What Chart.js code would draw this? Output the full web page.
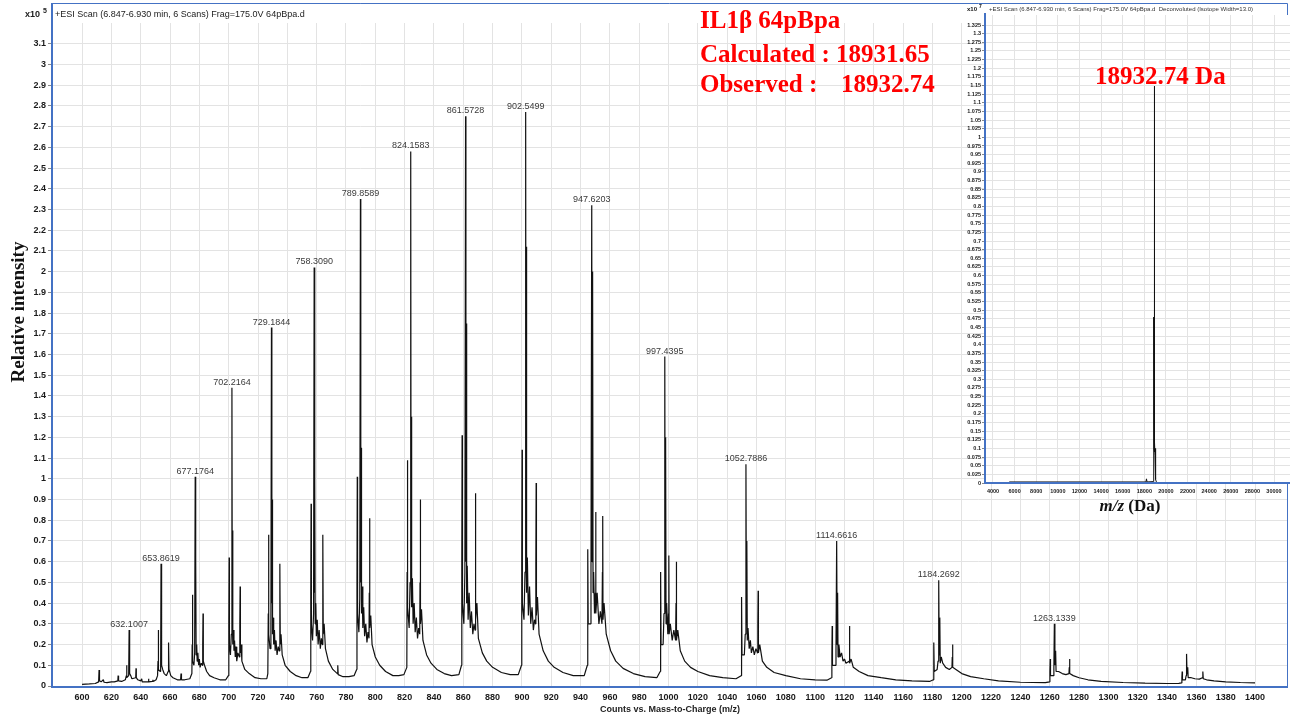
<!DOCTYPE html>
<html lang="en">
<head>
<meta charset="UTF-8">
<title>IL1β 64pBpa ESI spectrum</title>
<script src="https://cdn.jsdelivr.net/npm/chart.js"></script>
<style>
  body { margin: 0; background: #fff; }
  #wrap { position: relative; width: 1292px; height: 720px; overflow: hidden; }
  #mainChart { position: absolute; left: 0; top: 0; }
  #insetChart { position: absolute; left: 940px; top: 0; }
</style>
</head>
<body>
<div id="wrap">
  <canvas id="mainChart" width="1292" height="720"></canvas>
  <canvas id="insetChart" width="352" height="520"></canvas>
</div>
<script>
// ESI spectrum: [m/z, counts x10^5]
const spectrum = [
  [600, 0.008], [605, 0.01], [609, 0.012], [611.3, 0.02], [611.6, 0.077], [611.9, 0.025], [613, 0.02],
  [614.5, 0.03], [615, 0.018], [617, 0.016], [620, 0.02], [622, 0.02], [624.4, 0.025], [624.6, 0.05],
  [624.9, 0.025], [627, 0.022], [629.5, 0.03], [630.2, 0.05], [630.4, 0.10], [630.6, 0.04], [631.8, 0.05],
  [632.1007, 0.27], [632.3, 0.1], [632.6, 0.06], [633.2, 0.05], [634, 0.035], [636.6, 0.04], [636.8, 0.085],
  [637.0, 0.04], [638, 0.03], [640, 0.025], [640.7, 0.035], [641, 0.02], [643, 0.02], [645, 0.02],
  [645.3, 0.035], [645.6, 0.02], [648, 0.022], [648.3, 0.03], [648.6, 0.022], [650.5, 0.03],
  // z = 29
  [651.5, 0.05], [651.8, 0.12], [652.0, 0.27], [652.2, 0.08], [653.2, 0.07], [653.6, 0.09], [653.8619, 0.59],
  [654.1, 0.15], [654.4, 0.1], [655.0, 0.08], [656.0, 0.06], [657.5, 0.05], [658.7, 0.07], [659.0, 0.21],
  [659.3, 0.08], [660.5, 0.05], [662, 0.04], [665, 0.03], [667.2, 0.03], [667.5, 0.06], [667.8, 0.03],
  [670, 0.03], [673.5, 0.035],
  // z = 28
  [674.9, 0.06], [675.1, 0.2], [675.3, 0.44], [675.5, 0.12], [676.3, 0.1], [676.8, 0.16], [677.1764, 1.01],
  [677.4, 0.3], [677.6, 0.62], [677.8, 0.15], [678.2, 0.2], [678.5, 0.12], [679.0, 0.16], [679.5, 0.1],
  [680.0, 0.13], [680.5, 0.09], [681.3, 0.11], [682.1, 0.1], [682.3, 0.2], [682.5, 0.35], [682.7, 0.12],
  [683.5, 0.1], [685, 0.07], [687, 0.05], [690, 0.04], [694, 0.03], [698, 0.03],
  // z = 27
  [699.8, 0.05], [700.1, 0.3], [700.3, 0.62], [700.5, 0.2], [701.2, 0.15], [701.8, 0.25], [702.2164, 1.44],
  [702.45, 0.35], [702.7, 0.75], [702.9, 0.2], [703.3, 0.27], [703.6, 0.17], [704.0, 0.22], [704.5, 0.14],
  [705.0, 0.19], [705.5, 0.12], [706.3, 0.16], [707.3, 0.14], [707.6, 0.3], [707.8, 0.48], [708.0, 0.16],
  [708.5, 0.2], [709, 0.12], [711, 0.08], [714, 0.06], [718, 0.04], [722, 0.035], [726, 0.035],
  // z = 26
  [726.7, 0.06], [727.0, 0.35], [727.2, 0.73], [727.4, 0.25], [728.2, 0.18], [728.8, 0.3], [729.1844, 1.73],
  [729.45, 0.4], [729.7, 0.9], [729.9, 0.25], [730.3, 0.33], [730.7, 0.2], [731.2, 0.27], [731.7, 0.17],
  [732.3, 0.22], [733, 0.15], [733.8, 0.19], [734.5, 0.17], [734.8, 0.35], [735.0, 0.59], [735.2, 0.2],
  [735.7, 0.25], [736.5, 0.15], [738.5, 0.1], [742, 0.07], [746, 0.05], [750, 0.04], [754, 0.04],
  // z = 25
  [755.8, 0.07], [756.0, 0.45], [756.2, 0.88], [756.4, 0.3], [757.2, 0.22], [757.9, 0.35], [758.3090, 2.02],
  [758.55, 0.45], [758.8, 1.0], [759.0, 0.3], [759.4, 0.4], [759.8, 0.24], [760.4, 0.32], [761, 0.2],
  [761.7, 0.27], [762.5, 0.18], [763.2, 0.23], [763.9, 0.2], [764.1, 0.4], [764.3, 0.73], [764.5, 0.25],
  [765.1, 0.3], [766, 0.18], [768, 0.12], [771, 0.08], [774.1, 0.06], [774.4, 0.1], [774.7, 0.055],
  [778, 0.045], [782, 0.045], [785.5, 0.05],
  // z = 24
  [787.3, 0.08], [787.5, 0.5], [787.7, 1.01], [787.9, 0.35], [788.8, 0.26], [789.4, 0.42], [789.8589, 2.35],
  [790.1, 0.5], [790.35, 1.15], [790.6, 0.35], [791.0, 0.48], [791.5, 0.28], [792.1, 0.38], [792.7, 0.24],
  [793.5, 0.3], [794.3, 0.21], [795.0, 0.26], [795.7, 0.23], [795.9, 0.45], [796.1, 0.81], [796.3, 0.28],
  [796.9, 0.34], [797.8, 0.2], [800, 0.14], [803, 0.1], [807, 0.07], [812, 0.05], [816, 0.05], [819.5, 0.055],
  // z = 23
  [821.5, 0.09], [821.7, 0.55], [821.9, 1.09], [822.1, 0.38], [823.1, 0.28], [823.7, 0.5], [824.1583, 2.58],
  [824.4, 0.55], [824.65, 1.3], [824.9, 0.38], [825.3, 0.52], [825.8, 0.3], [826.5, 0.4], [827.2, 0.26],
  [828.0, 0.33], [828.8, 0.23], [829.6, 0.28], [830.3, 0.25], [830.5, 0.5], [830.7, 0.90], [830.9, 0.3],
  [831.5, 0.37], [832.5, 0.22], [835, 0.15], [838, 0.11], [842, 0.08], [847, 0.06], [852, 0.05], [857, 0.055],
  // z = 22
  [858.8, 0.1], [859.0, 0.6], [859.2, 1.21], [859.4, 0.4], [860.4, 0.3], [861.1, 0.55], [861.5728, 2.75],
  [861.8, 0.6], [862.05, 1.75], [862.3, 0.4], [862.7, 0.58], [863.3, 0.32], [864.0, 0.45], [864.8, 0.28],
  [865.6, 0.36], [866.5, 0.25], [867.3, 0.3], [868.0, 0.27], [868.2, 0.55], [868.4, 0.93], [868.6, 0.32],
  [869.3, 0.4], [870.3, 0.23], [873, 0.16], [876, 0.12], [880, 0.09], [886, 0.065], [892, 0.055], [897.5, 0.055],
  // z = 21
  [899.7, 0.1], [899.9, 0.6], [900.1, 1.14], [900.3, 0.4], [901.4, 0.32], [902.1, 0.55], [902.5499, 2.77],
  [902.8, 0.65], [903.05, 2.12], [903.3, 0.45], [903.7, 0.62], [904.4, 0.34], [905.2, 0.48], [906, 0.3],
  [906.9, 0.38], [907.8, 0.27], [908.6, 0.32], [909.3, 0.3], [909.5, 0.6], [909.7, 0.98], [909.9, 0.34],
  [910.6, 0.43], [911.7, 0.25], [914.5, 0.17], [918, 0.12], [922, 0.09], [928, 0.065], [935, 0.05], [942.5, 0.05],
  // z = 20
  [944.6, 0.1], [944.8, 0.35], [945.0, 0.66], [945.2, 0.3], [946.5, 0.3], [947.1, 0.55], [947.6203, 2.32],
  [947.9, 0.6], [948.2, 2.0], [948.5, 0.45], [948.9, 0.55], [949.5, 0.35], [950.1, 0.45], [950.3, 0.84],
  [950.5, 0.35], [951.3, 0.45], [952.5, 0.3], [953.5, 0.36], [954.6, 0.3], [954.9, 0.55], [955.1, 0.82],
  [955.3, 0.32], [956.0, 0.4], [957.5, 0.25], [960.5, 0.17], [964, 0.12], [969, 0.085], [976, 0.06],
  [984, 0.045], [992, 0.04],
  // z = 19
  [994.3, 0.07], [994.5, 0.3], [994.7, 0.55], [994.9, 0.2], [996.3, 0.2], [996.9, 0.35], [997.4395, 1.59],
  [997.7, 0.4], [998.0, 1.2], [998.3, 0.3], [998.7, 0.4], [999.5, 0.25], [1000.0, 0.35], [1000.2, 0.63],
  [1000.4, 0.25], [1001.2, 0.3], [1002.5, 0.22], [1003.6, 0.27], [1004.8, 0.22], [1005.1, 0.4], [1005.3, 0.6],
  [1005.5, 0.22], [1006.3, 0.27], [1008, 0.17], [1011, 0.12], [1015, 0.09], [1020, 0.07], [1028, 0.05],
  [1037, 0.04], [1046, 0.035],
  // z = 18
  [1049.5, 0.05], [1049.7, 0.22], [1049.9, 0.43], [1050.1, 0.15], [1051.7, 0.15], [1052.3, 0.25],
  [1052.7886, 1.07], [1053.1, 0.3], [1053.4, 0.7], [1053.7, 0.22], [1054.2, 0.28], [1055, 0.18],
  [1055.8, 0.22], [1056.5, 0.16], [1057.5, 0.19], [1058.5, 0.15], [1059.6, 0.18], [1060.7, 0.16],
  [1060.9, 0.3], [1061.1, 0.46], [1061.3, 0.16], [1062.2, 0.2], [1064, 0.12], [1067, 0.09], [1072, 0.065],
  [1080, 0.05], [1090, 0.035], [1100, 0.03], [1108, 0.028],
  // z = 17
  [1111.2, 0.04], [1111.4, 0.15], [1111.6, 0.29], [1111.8, 0.1], [1113.6, 0.1], [1114.2, 0.17],
  [1114.6616, 0.70], [1115.0, 0.2], [1115.3, 0.45], [1115.6, 0.14], [1116.2, 0.2], [1117, 0.14],
  [1118, 0.16], [1119, 0.12], [1120, 0.13], [1121, 0.11], [1123.1, 0.12], [1123.3, 0.2], [1123.5, 0.29],
  [1123.7, 0.11], [1124.5, 0.13], [1126, 0.09], [1130, 0.07], [1136, 0.05], [1145, 0.04], [1155, 0.03],
  [1166, 0.025], [1178, 0.022],
  // z = 16
  [1180.6, 0.03], [1180.8, 0.1], [1181.0, 0.21], [1181.2, 0.07], [1183.2, 0.08], [1183.8, 0.12],
  [1184.2692, 0.51], [1184.6, 0.15], [1185.0, 0.33], [1185.3, 0.11], [1186, 0.14], [1187, 0.11],
  [1189, 0.09], [1191.5, 0.08], [1193.3, 0.09], [1193.5, 0.14], [1193.7, 0.20], [1193.9, 0.09],
  [1196, 0.08], [1200, 0.06], [1206, 0.045], [1215, 0.035], [1225, 0.025], [1240, 0.018], [1257, 0.016],
  // z = 15
  [1259.9, 0.02], [1260.1, 0.07], [1260.3, 0.13], [1260.5, 0.05], [1262.3, 0.05], [1262.8, 0.08],
  [1263.1339, 0.30], [1263.5, 0.1], [1264, 0.17], [1264.3, 0.07], [1266, 0.07], [1268.5, 0.06],
  [1271, 0.055], [1273.1, 0.06], [1273.3, 0.09], [1273.5, 0.13], [1273.7, 0.06], [1276, 0.05], [1280, 0.04],
  [1286, 0.03], [1295, 0.022], [1310, 0.017], [1325, 0.014], [1340, 0.012], [1348, 0.013],
  // z = 14
  [1349.9, 0.015], [1350.1, 0.04], [1350.3, 0.07], [1350.5, 0.03], [1352.5, 0.03], [1353.0, 0.05],
  [1353.3, 0.155], [1353.6, 0.06], [1354.1, 0.09], [1354.4, 0.04], [1356.5, 0.04], [1359, 0.035],
  [1362, 0.033], [1364.1, 0.04], [1364.3, 0.055], [1364.5, 0.07], [1364.7, 0.035], [1367, 0.03],
  [1372, 0.025], [1380, 0.02], [1390, 0.017], [1400, 0.015]
];

// annotated charge-state maxima (m/z)
const labelledPeaks = [632.1007, 653.8619, 677.1764, 702.2164, 729.1844, 758.3090, 789.8589, 824.1583,
  861.5728, 902.5499, 947.6203, 997.4395, 1052.7886, 1114.6616, 1184.2692, 1263.1339];

const mzTicks = [600, 620, 640, 660, 680, 700, 720, 740, 760, 780, 800, 820, 840, 860, 880, 900, 920, 940,
  960, 980, 1000, 1020, 1040, 1060, 1080, 1100, 1120, 1140, 1160, 1180, 1200, 1220, 1240, 1260, 1280, 1300,
  1320, 1340, 1360, 1380, 1400];
const countTicks = [0, 0.1, 0.2, 0.3, 0.4, 0.5, 0.6, 0.7, 0.8, 0.9, 1, 1.1, 1.2, 1.3, 1.4, 1.5, 1.6, 1.7,
  1.8, 1.9, 2, 2.1, 2.2, 2.3, 2.4, 2.5, 2.6, 2.7, 2.8, 2.9, 3, 3.1];

// deconvoluted mass spectrum, counts x10^7
const deconvMass = [5500, 18150, 18200, 18250, 18820, 18850, 18865, 18880, 18890, 18900, 18910, 18920,
  18932.74, 18945, 18960, 18975, 18990, 19010, 19040, 19080, 19120];
const deconvIntensity = [0.003, 0.003, 0.012, 0.003, 0.004, 0.05, 0.11, 0.07, 0.48, 0.1, 0.37, 0.12,
  1.148, 0.13, 0.09, 0.12, 0.08, 0.1, 0.04, 0.01, 0.003];
const massTicks = [4000, 6000, 8000, 10000, 12000, 14000, 16000, 18000, 20000, 22000, 24000, 26000, 28000, 30000];
const deconvTicks = [0, 0.025, 0.05, 0.075, 0.1, 0.125, 0.15, 0.175, 0.2, 0.225, 0.25, 0.275, 0.3, 0.325,
  0.35, 0.375, 0.4, 0.425, 0.45, 0.475, 0.5, 0.525, 0.55, 0.575, 0.6, 0.625, 0.65, 0.675, 0.7, 0.725, 0.75,
  0.775, 0.8, 0.825, 0.85, 0.875, 0.9, 0.925, 0.95, 0.975, 1, 1.025, 1.05, 1.075, 1.1, 1.125, 1.15, 1.175,
  1.2, 1.225, 1.25, 1.275, 1.3, 1.325];

const calculatedMass = '18931.65';
const observedMass = 18932.74;

const frameBlue = '#4472c4';
const gridGrey = '#e3e3e3';
const tickFont = { family: 'Liberation Sans', size: 9, weight: 'bold' };

function peakHeight(mz) {
  const p = spectrum.find(d => d[0] === mz);
  return p ? p[1] : 0;
}

const mainDecor = {
  id: 'mainDecor',
  afterDraw(chart) {
    const { ctx, chartArea: a, scales: { x, y } } = chart;
    ctx.save();

    // panel frame
    ctx.strokeStyle = frameBlue;
    ctx.lineWidth = 1;
    ctx.beginPath();
    ctx.moveTo(a.left, 3.5);
    ctx.lineTo(a.right + 0.5, 3.5);
    ctx.lineTo(a.right + 0.5, a.bottom + 2);
    ctx.stroke();
    ctx.lineWidth = 2;
    ctx.beginPath();
    ctx.moveTo(a.left, 3);
    ctx.lineTo(a.left, a.bottom + 1);
    ctx.lineTo(a.right + 1, a.bottom + 1);
    ctx.stroke();

    // header
    ctx.fillStyle = '#222';
    ctx.textBaseline = 'alphabetic';
    ctx.font = '9px "Liberation Sans"';
    ctx.fillText('+ESI Scan (6.847-6.930 min, 6 Scans) Frag=175.0V 64pBpa.d', a.left + 3, 17);
    ctx.font = 'bold 9px "Liberation Sans"';
    ctx.fillText('x10', 25, 17);
    ctx.font = 'bold 7px "Liberation Sans"';
    ctx.fillText('5', 43, 13);

    // axis titles
    ctx.font = 'bold 9px "Liberation Sans"';
    ctx.textAlign = 'center';
    ctx.fillText('Counts vs. Mass-to-Charge (m/z)', 670, 712);
    ctx.save();
    ctx.translate(19, 312);
    ctx.rotate(-Math.PI / 2);
    ctx.textBaseline = 'middle';
    ctx.fillStyle = '#111';
    ctx.font = 'bold 19px "Liberation Serif"';
    ctx.fillText('Relative intensity', 0, 0);
    ctx.restore();

    // peak annotations
    ctx.fillStyle = '#3a3a3a';
    ctx.font = '9px "Liberation Sans"';
    labelledPeaks.forEach(mz => {
      const px = x.getPixelForValue(mz);
      const py = y.getPixelForValue(peakHeight(mz));
      ctx.fillText(mz.toFixed(4), px, py - 3);
    });

    // sample info
    ctx.textAlign = 'left';
    ctx.fillStyle = '#ff0000';
    ctx.font = 'bold 25px "Liberation Serif"';
    ctx.fillText('IL1\u03b2 64pBpa', 700, 28);
    ctx.fillText('Calculated : ' + calculatedMass, 700, 62);
    ctx.fillText('Observed :', 700, 92);
    ctx.fillText(observedMass.toFixed(2), 841, 92);
    ctx.restore();
  }
};

new Chart(document.getElementById('mainChart'), {
  type: 'scatter',
  data: {
    datasets: [{
      data: spectrum.map(([mz, c]) => ({ x: mz, y: c })),
      showLine: true,
      borderColor: '#111',
      borderWidth: 1.2,
      borderJoinStyle: 'bevel',
      pointRadius: 0,
      tension: 0
    }]
  },
  options: {
    responsive: false,
    animation: false,
    events: [],
    layout: { padding: { top: 23, right: 5, left: 0, bottom: 0 } },
    plugins: { legend: { display: false }, tooltip: { enabled: false } },
    scales: {
      x: {
        type: 'linear',
        min: 579.5,
        max: 1421.8,
        afterBuildTicks: axis => { axis.ticks = mzTicks.map(v => ({ value: v })); },
        afterFit: axis => { axis.height = 34; },
        grid: { color: gridGrey, drawTicks: false },
        border: { display: false },
        ticks: {
          autoSkip: false, maxRotation: 0, padding: 6, color: '#1a1a1a', font: tickFont,
          callback: v => String(v)
        }
      },
      y: {
        min: 0,
        max: 3.2,
        afterBuildTicks: axis => { axis.ticks = countTicks.map(v => ({ value: v })); },
        afterFit: axis => { axis.width = 52; },
        grid: { color: gridGrey, tickLength: 4, tickColor: '#888' },
        border: { display: false },
        ticks: {
          autoSkip: false, padding: 2, color: '#1a1a1a', font: tickFont,
          callback: v => String(+v.toFixed(1))
        }
      }
    }
  },
  plugins: [mainDecor]
});

const insetDecor = {
  id: 'insetDecor',
  beforeDraw(chart) {
    const { ctx, chartArea: a } = chart;
    ctx.save();
    ctx.fillStyle = '#fff';
    ctx.fillRect(a.left, a.top, a.right - a.left, a.bottom - a.top);
    ctx.restore();
  },
  afterDraw(chart) {
    const { ctx, chartArea: a, scales: { x, y } } = chart;
    ctx.save();
    ctx.strokeStyle = frameBlue;
    ctx.lineWidth = 2;
    ctx.beginPath();
    ctx.moveTo(a.left, 13);
    ctx.lineTo(a.left, a.bottom);
    ctx.lineTo(a.right, a.bottom);
    ctx.stroke();

    ctx.fillStyle = '#333';
    ctx.font = '6px "Liberation Sans"';
    ctx.fillText('+ESI Scan (6.847-6.930 min, 6 Scans) Frag=175.0V 64pBpa.d  Deconvoluted (Isotope Width=13.0)', a.left + 4, 11);
    ctx.fillStyle = '#111';
    ctx.font = 'bold 6px "Liberation Sans"';
    ctx.fillText('x10', 27, 11);
    ctx.font = 'bold 5px "Liberation Sans"';
    ctx.fillText('7', 39, 8);

    // axis title: italic m/z, upright (Da)
    ctx.fillStyle = '#111';
    const italic = 'italic bold 17px "Liberation Serif"';
    const upright = 'bold 17px "Liberation Serif"';
    ctx.font = italic;
    const w1 = ctx.measureText('m/z').width;
    ctx.font = upright;
    const w2 = ctx.measureText(' (Da)').width;
    const start = 190 - (w1 + w2) / 2;
    ctx.font = italic;
    ctx.fillText('m/z', start, 511);
    ctx.font = upright;
    ctx.fillText(' (Da)', start + w1, 511);

    // observed mass on the main peak
    const i = deconvMass.indexOf(observedMass);
    ctx.fillStyle = '#ff0000';
    ctx.font = 'bold 25px "Liberation Serif"';
    ctx.textAlign = 'center';
    ctx.fillText(observedMass.toFixed(2) + ' Da', x.getPixelForValue(observedMass) + 6,
      y.getPixelForValue(deconvIntensity[i]) - 2);
    ctx.restore();
  }
};

const insetTickFont = { family: 'Liberation Sans', size: 5.5, weight: 'bold' };

new Chart(document.getElementById('insetChart'), {
  type: 'scatter',
  data: {
    datasets: [{
      data: deconvMass.map((m, i) => ({ x: m, y: deconvIntensity[i] })),
      showLine: true,
      borderColor: '#111',
      borderWidth: 1,
      borderJoinStyle: 'bevel',
      pointRadius: 0,
      tension: 0
    }]
  },
  options: {
    responsive: false,
    animation: false,
    events: [],
    layout: { padding: { top: 15, right: 2, left: 0, bottom: 0 } },
    plugins: { legend: { display: false }, tooltip: { enabled: false } },
    scales: {
      x: {
        type: 'linear',
        min: 3260,
        max: 31480,
        afterBuildTicks: axis => { axis.ticks = massTicks.map(v => ({ value: v })); },
        afterFit: axis => { axis.height = 37; },
        grid: { color: gridGrey, drawTicks: false },
        border: { display: false },
        ticks: {
          autoSkip: false, maxRotation: 0, padding: 5, color: '#1a1a1a', font: insetTickFont,
          callback: v => String(v)
        }
      },
      y: {
        min: 0,
        max: 1.354,
        afterBuildTicks: axis => { axis.ticks = deconvTicks.map(v => ({ value: v })); },
        afterFit: axis => { axis.width = 45; },
        grid: { color: gridGrey, tickLength: 3, tickColor: '#888' },
        border: { display: false },
        ticks: {
          autoSkip: false, padding: 1, color: '#1a1a1a', font: insetTickFont,
          callback: v => String(+v.toFixed(3))
        }
      }
    }
  },
  plugins: [insetDecor]
});
</script>
</body>
</html>
